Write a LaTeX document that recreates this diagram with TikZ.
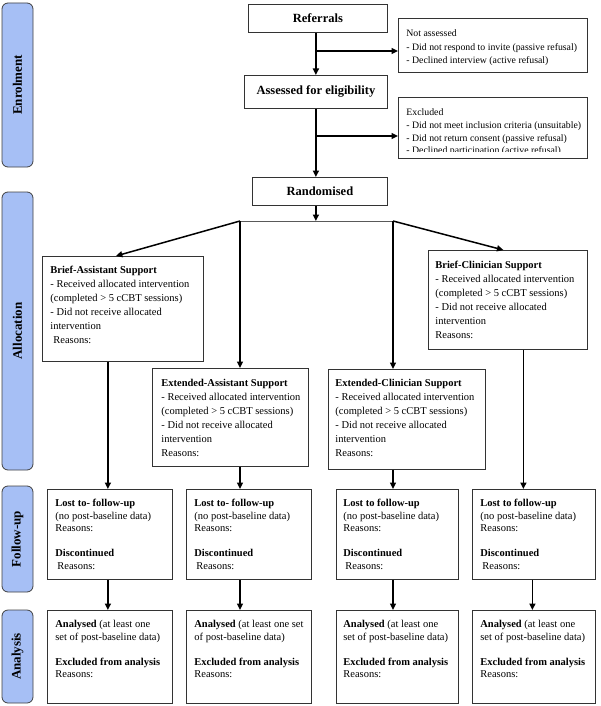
\documentclass[tikz,border=0pt]{standalone}
\usepackage{fontspec}
\setmainfont{Liberation Serif}
\usetikzlibrary{arrows.meta,calc}
\definecolor{barblue}{RGB}{166,191,245}
% width, height, left pad, first-baseline offset, lines
\newcommand{\bx}[5]{\parbox[c][#2][t]{#1}{\hspace*{#3}\rule{0pt}{#4}\begin{tabular}[t]{@{}l@{}}#5\end{tabular}}}
\begin{document}
\begin{tikzpicture}[x=1pt,y=-1pt,
  bar/.style={draw=black!75, fill=barblue, line width=0.8pt, rounded corners=6pt,
    rotate=90, inner sep=0pt, font=\bfseries\fontsize{13}{15}\selectfont},
  hbox/.style={draw=black!80, line width=0.8pt, anchor=north west, inner sep=0pt,
    font=\bfseries\fontsize{12.5}{15}\selectfont},
  cell/.style={draw=black!80, line width=0.8pt, anchor=north west, inner sep=0pt},
  alloc/.style={font=\fontsize{10.5}{14}\selectfont},
  fu/.style={font=\fontsize{10.5}{12.5}\selectfont},
  note/.style={font=\fontsize{9.8}{13.5}\selectfont},
  arr/.style={line width=1.5pt, -{Triangle[length=6.5pt,width=6pt]}},
  thinline/.style={draw=black!65, line width=1pt}]
\useasboundingbox (0,0) rectangle (600,706);

% side bars
\node[bar, minimum width=164pt, minimum height=31pt] (bEnr) at (17.5,85) {Enrolment};
\node[bar, minimum width=278pt, minimum height=31pt] (bAll) at (17.5,331) {Allocation};
\node[bar, minimum width=106pt, minimum height=31pt] (bFol) at (17.5,539) {Follow-up};
\node[bar, minimum width=93pt, minimum height=31pt] (bAna) at (17.5,656.5) {Analysis};

% top flow
\node[hbox, minimum width=139pt, minimum height=28pt] (ref) at (248,4) {Referrals};
\node[hbox, minimum width=143pt, minimum height=33pt] (assess) at (244,75) {Assessed for eligibility};
\node[hbox, minimum width=135pt, minimum height=28pt] (rand) at (252,177) {Randomised};

\node[cell, note] (notass) at (398,18) {\bx{189pt}{54pt}{8pt}{18.5pt}{Not assessed\\ - Did not respond to invite (passive refusal)\\ - Declined interview (active refusal)}};

\begin{scope}
  \clip (398,97) rectangle (587,151.5);
  \node[cell, draw=none, font=\fontsize{9.8}{12.7}\selectfont] (excl) at (398,97) {\bx{189pt}{61pt}{8pt}{18.5pt}{Excluded\\ - Did not meet inclusion criteria (unsuitable)\\ - Did not return consent (passive refusal)\\ - Declined participation (active refusal)}};
\end{scope}
\draw[draw=black!80, line width=0.8pt] (excl.north west) rectangle (excl.south east);

% allocation boxes
\node[cell, alloc] (ba) at (42,256) {\bx{161pt}{105pt}{8pt}{17.5pt}{\textbf{Brief-Assistant Support}\\ - Received allocated intervention\\ (completed > 5 cCBT sessions)\\ - Did not receive allocated\\ intervention\\ \hspace{3pt}Reasons:}};
\node[cell, alloc] (bc) at (428,250) {\bx{159pt}{99pt}{7pt}{18pt}{\textbf{Brief-Clinician Support}\\ - Received allocated intervention\\ (completed > 5 cCBT sessions)\\ - Did not receive allocated\\ intervention\\ Reasons:}};
\node[cell, alloc] (ea) at (152,368) {\bx{156pt}{98pt}{9pt}{18pt}{\textbf{Extended-Assistant Support}\\ - Received allocated intervention\\ (completed > 5 cCBT sessions)\\ - Did not receive allocated\\ intervention\\ Reasons:}};
\node[cell, alloc] (ec) at (328,369) {\bx{157pt}{100pt}{7pt}{17.5pt}{\textbf{Extended-Clinician Support}\\ - Received allocated intervention\\ (completed > 5 cCBT sessions)\\ - Did not receive allocated\\ intervention\\ Reasons:}};

% follow-up boxes
\node[cell, fu] (f1) at (47,489) {\bx{125pt}{90pt}{8pt}{17.5pt}{\textbf{Lost to- follow-up}\\ (no post-baseline data)\\ Reasons:\\[12.5pt] \textbf{Discontinued}\\ \hspace{2pt}Reasons:}};
\node[cell, fu] (f2) at (186,489) {\bx{125pt}{90pt}{8pt}{17.5pt}{\textbf{Lost to- follow-up}\\ (no post-baseline data)\\ Reasons:\\[12.5pt] \textbf{Discontinued}\\ \hspace{2pt}Reasons:}};
\node[cell, fu] (f3) at (336,489) {\bx{122pt}{90pt}{7pt}{17.5pt}{\textbf{Lost to follow-up}\\ (no post-baseline data)\\ Reasons:\\[12.5pt] \textbf{Discontinued}\\ \hspace{2pt}Reasons:}};
\node[cell, fu] (f4) at (472,489) {\bx{123pt}{90pt}{8pt}{17.5pt}{\textbf{Lost to follow-up}\\ (no post-baseline data)\\ Reasons:\\[12.5pt] \textbf{Discontinued}\\ \hspace{2pt}Reasons:}};

% analysis boxes
\node[cell, fu] (a1) at (47,610) {\bx{125pt}{93pt}{8pt}{17.5pt}{\textbf{Analysed} (at least one\\ set of post-baseline data)\\[12.5pt] \textbf{Excluded from analysis}\\ Reasons:}};
\node[cell, fu] (a2) at (186,610) {\bx{125pt}{93pt}{8pt}{17.5pt}{\textbf{Analysed} (at least one set\\ of post-baseline data)\\[12.5pt] \textbf{Excluded from analysis}\\ Reasons:}};
\node[cell, fu] (a3) at (336,610) {\bx{122pt}{93pt}{7pt}{17.5pt}{\textbf{Analysed} (at least one\\ set of post-baseline data)\\[12.5pt] \textbf{Excluded from analysis}\\ Reasons:}};
\node[cell, fu] (a4) at (472,610) {\bx{123pt}{93pt}{8pt}{17.5pt}{\textbf{Analysed} (at least one\\ set of post-baseline data)\\[12.5pt] \textbf{Excluded from analysis}\\ Reasons:}};

% connectors
\coordinate (j1) at (315.5,51);
\coordinate (j2) at (315.5,136);
\coordinate (hl) at (240,221);
\coordinate (hr) at (393,221);
\draw[arr] (assess.north |- ref.south) -- (assess.north);
\draw[arr] (j1) -- (j1 -| notass.west);
\draw[arr] (assess.south) -- (assess.south |- rand.north);
\draw[arr] (j2) -- (j2 -| excl.west);
\draw[arr] (assess.south |- rand.south) -- (assess.south |- hl);
\draw[thinline] (hl) -- (hr);
\draw[arr] (hl) -- ([xshift=-7pt]ba.north);
\draw[arr] (hr) -- ([xshift=-4.5pt]bc.north);
\draw[arr] (hl) -- (hl |- ea.north);
\draw[arr] (hr) -- (hr |- ec.north);
\draw[arr] ([xshift=-2pt]f1.north |- ba.south) -- ([xshift=-2pt]f1.north);
\draw[arr] (hl |- ea.south) -- (hl |- f2.north);
\draw[arr] (hr |- ec.south) -- (hr |- f3.north);
\draw[arr] ([xshift=15.5pt]bc.south) -- ([xshift=15.5pt]bc.south |- f4.north);
\draw[arr] ([xshift=-2pt]f1.south) -- ([xshift=-2pt]a1.north);
\draw[arr] (hl |- f2.south) -- (hl |- a2.north);
\draw[arr] (hr |- f3.south) -- (hr |- a3.north);
\draw[arr] ([xshift=-1.5pt]f4.south) -- ([xshift=-1.5pt]a4.north);
\end{tikzpicture}
\end{document}
